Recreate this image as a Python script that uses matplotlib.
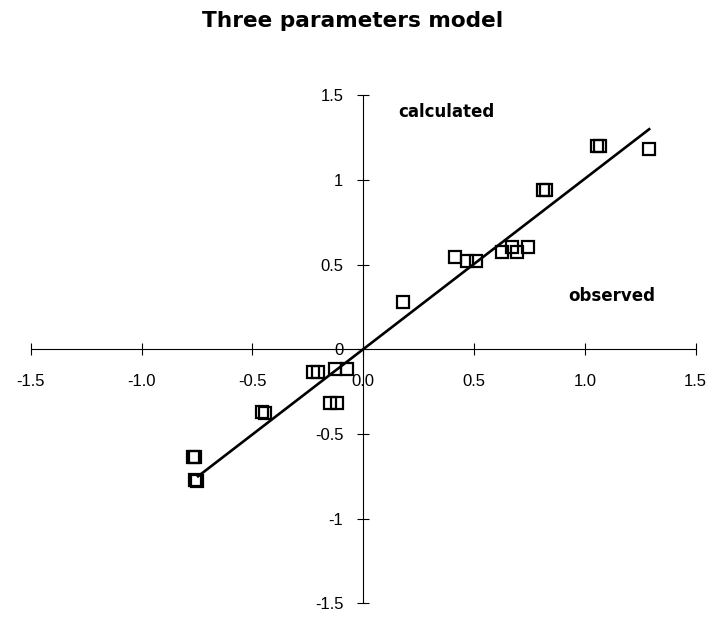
import matplotlib
matplotlib.use("Agg")
import matplotlib.pyplot as plt

# Data (observed vs calculated)
observed = [-0.770, -0.760, -0.760, -0.750, -0.455, -0.445, -0.225, -0.203,
            -0.127, -0.072, -0.150, -0.117, 0.180, 0.413, 0.468, 0.511,
            0.624, 0.669, 0.694, 0.744, 0.811, 0.826, 1.054, 1.066, 1.288]
calculated = [-0.635, -0.635, -0.770, -0.775, -0.370, -0.375, -0.134, -0.134,
              -0.114, -0.114, -0.319, -0.319, 0.281, 0.543, 0.523, 0.523,
              0.573, 0.602, 0.576, 0.602, 0.941, 0.941, 1.201, 1.201, 1.181]
fit_x = [-0.745, 1.290]
fit_y = [-0.750, 1.300]

x_ticks = [-1.5, -1.0, -0.5, 0.0, 0.5, 1.0, 1.5]
x_labels = ["-1.5", "-1.0", "-0.5", "0.0", "0.5", "1.0", "1.5"]
y_ticks = [1.5, 1.0, 0.5, 0.0, -0.5, -1.0, -1.5]
y_labels = ["1.5", "1", "0.5", "0", "-0.5", "-1", "-1.5"]

fig = plt.figure(figsize=(7.10, 6.21), dpi=100)
ax = fig.add_axes([0.0432, 0.0285, 0.9367, 0.818])

ax.plot(fit_x, fit_y, color="black", lw=1.9, zorder=2)
ax.plot(observed, calculated, linestyle="none", marker="s", markersize=8.6,
        markerfacecolor="none", markeredgecolor="black", markeredgewidth=1.6,
        zorder=3)

ax.set_xlim(-1.5, 1.5)
ax.set_ylim(-1.5, 1.5)

for s in ["top", "right"]:
    ax.spines[s].set_visible(False)
ax.spines["left"].set_position(("data", 0))
ax.spines["bottom"].set_position(("data", 0))
for s in ["left", "bottom"]:
    ax.spines[s].set_linewidth(0.8)
    ax.spines[s].set_color("black")

ax.set_xticks(x_ticks)
ax.set_xticklabels(x_labels)
ax.set_yticks(y_ticks)
ax.set_yticklabels(y_labels)
ax.tick_params(axis="x", direction="inout", length=8.6, width=0.8,
               pad=13.5, labelsize=12)
ax.tick_params(axis="y", direction="inout", length=8.6, width=0.8,
               pad=10, labelsize=12)
for lab in ax.get_xticklabels() + ax.get_yticklabels():
    lab.set_family("Liberation Sans")

ax.text(0.375, 1.40, "calculated", ha="center", va="center",
        fontsize=12, fontweight="bold", family="DejaVu Sans")
ax.text(1.121, 0.315, "observed", ha="center", va="center",
        fontsize=12, fontweight="bold", family="DejaVu Sans")

fig.text(0.497, 0.966, "Three parameters model", ha="center", va="center",
         fontsize=15.6, fontweight="bold", family="DejaVu Sans")

fig.savefig("out.png", dpi=100)
